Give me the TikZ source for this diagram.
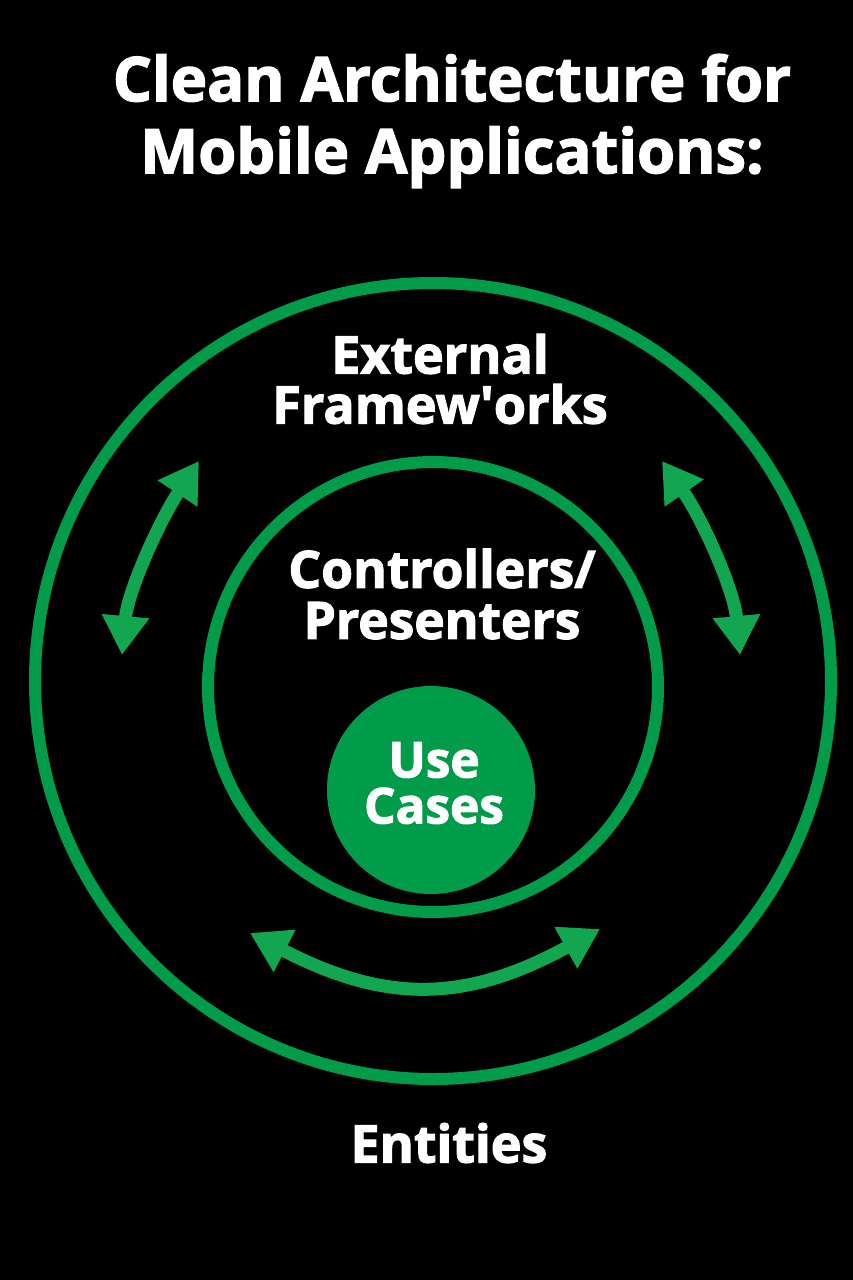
\documentclass[tikz,border=0pt]{standalone}
\usepackage{fontspec}
\setmainfont{Open Sans}[BoldFeatures={FakeBold=2.2}]
\usetikzlibrary{arrows.meta}
\definecolor{ringgreen}{RGB}{0,156,74}
\definecolor{arrowgreen}{RGB}{18,166,80}
\begin{document}
\begin{tikzpicture}[x=1pt,y=-1pt,
  ring/.style={draw=ringgreen,line width=12pt},
  label/.style={text=white,align=center,font=\bfseries},
  flow/.style={draw=arrowgreen,line width=13pt,{Triangle[length=39pt,width=45pt]}-{Triangle[length=39pt,width=45pt]}}]
     %background:
\fill[black] (0,0) rectangle (853,1280);
\useasboundingbox (0,0) rectangle (853,1280);

\node (title) at (452,121) [label,font=\bfseries\fontsize{61.5}{72}\selectfont] {Clean Architecture for\\Mobile Applications:};

     %layers:
\begin{scope}
\node (outer) at (433,681) [circle,ring,minimum size=796pt] {};
\node (inner) at (433,687) [circle,ring,minimum size=450pt] {};
\node (usecases) at (431,790) [circle,fill=ringgreen,minimum size=208pt] {};
\end{scope}

\node (external) at (440,379) [label,font=\bfseries\fontsize{52}{50}\selectfont] {External\\Framew\textquotesingle orks};
\node (controllers) at (442,594) [label,font=\bfseries\fontsize{51.5}{51}\selectfont] {Controllers/\\Presenters};
\node (usetext) at (434,783) [label,font=\bfseries\fontsize{49.5}{46}\selectfont] {Use\\Cases};
\node (entities) at (449,1143) [label,font=\bfseries\fontsize{52}{50}\selectfont] {Entities};

     %arrows:
\coordinate (leftlow) at (122,655);
\coordinate (lefthigh) at (199,461);
\coordinate (righthigh) at (662,461);
\coordinate (rightlow) at (740,655);
\coordinate (bottomleft) at (250,933);
\coordinate (bottomright) at (600,929);

\draw [flow] (leftlow) .. controls (128,590) and (160,520) .. (lefthigh);
\draw [flow] (righthigh) .. controls (703,520) and (734,590) .. (rightlow);
\draw [flow] (bottomleft) .. controls (385,1003) and (465,1003) .. (bottomright);
   \end{tikzpicture}
\end{document}
